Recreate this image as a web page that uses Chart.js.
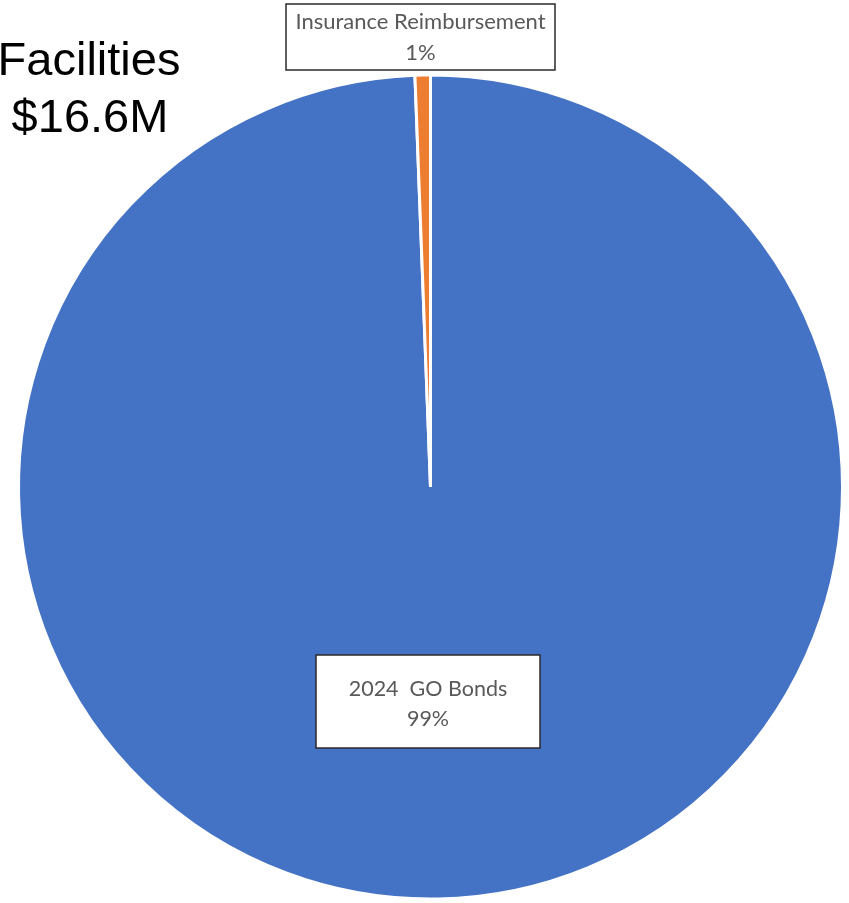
<!DOCTYPE html>
<html>
<head>
<meta charset="utf-8">
<script src="https://cdn.jsdelivr.net/npm/chart.js@4.4.1/dist/chart.umd.min.js"></script>
<style>
  html, body { margin: 0; padding: 0; background: #fff; }
  #wrap { position: relative; width: 849px; height: 903px; }
</style>
</head>
<body>
<div id="wrap"><canvas id="pie" width="849" height="903"></canvas></div>
<script>
// data ($M)
const categories = ["2024  GO Bonds", "Insurance Reimbursement"];
const amounts = [16.5, 0.1];
const sliceColors = ["#4472C4", "#ED7D31"];
const titleLines = ["Facilities"];

// boxed labels like the Excel data callouts: cx, cy, w, h per slice
const LABEL_BOXES = [
  { cx: 428, cy: 701.5, w: 224, h: 93, line1: 689, line2: 719, size: 21.5 },
  { cx: 420.5, cy: 37, w: 269, h: 66, line1: 22, line2: 53, size: 22 }
];

const calloutPlugin = {
  id: "callouts",
  afterDatasetsDraw(chart) {
    const ctx = chart.ctx;
    const data = chart.data.datasets[0].data;
    const sum = data.reduce((s, v) => s + v, 0);
    ctx.save();
    data.forEach((v, i) => {
      const b = LABEL_BOXES[i];
      if (!b) return;
      const x0 = b.cx - b.w / 2, y0 = b.cy - b.h / 2;
      ctx.fillStyle = "#ffffff";
      ctx.fillRect(x0, y0, b.w, b.h);
      ctx.strokeStyle = "#2a2a2a";
      ctx.lineWidth = 1.5;
      ctx.strokeRect(x0, y0, b.w, b.h);
      ctx.fillStyle = "#595959";
      ctx.font = b.size + "px Lato";
      ctx.textAlign = "center";
      ctx.textBaseline = "middle";
      ctx.fillText(chart.data.labels[i], b.cx, b.line1);
      ctx.fillText(Math.round(v / sum * 100) + "%", b.cx, b.line2);
    });
    // big title at top left
    ctx.fillStyle = "#000000";
    ctx.font = "47px 'Liberation Sans', Arial, sans-serif";
    ctx.textAlign = "center";
    ctx.textBaseline = "alphabetic";
    ctx.fillText(titleLines[0], 89, 75);
    ctx.fillText("$" + sum.toFixed(1) + "M", 90, 132);
    ctx.restore();
  }
};

new Chart(document.getElementById("pie"), {
  type: "pie",
  data: {
    labels: categories,
    datasets: [{
      data: amounts,
      backgroundColor: sliceColors,
      borderColor: "#ffffff",
      borderWidth: 3
    }]
  },
  options: {
    responsive: false,
    animation: false,
    layout: { padding: { left: 17, right: 5, top: 73, bottom: 2 } },
    plugins: {
      legend: { display: false },
      tooltip: { enabled: false },
      title: { display: false }
    }
  },
  plugins: [calloutPlugin]
});
</script>
</body>
</html>
